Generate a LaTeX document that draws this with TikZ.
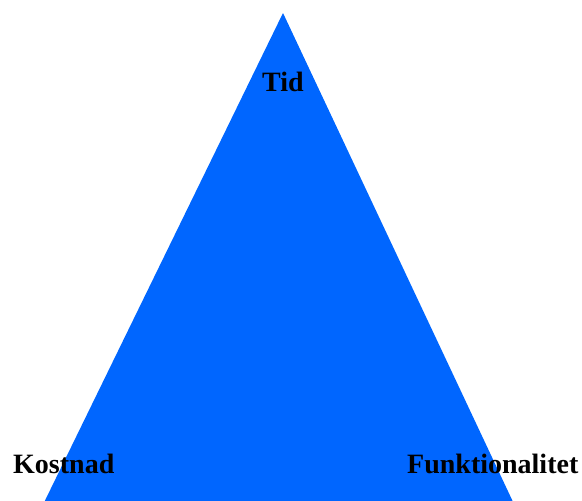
\documentclass[tikz,border=0pt]{standalone}
\usepackage{fontspec}
\setmainfont{Liberation Serif}
\usetikzlibrary{positioning,calc}

\begin{document}
\begin{tikzpicture}[
    x=1pt, y=-1pt,
    corner/.style={font=\fontsize{28}{32}\selectfont\bfseries,inner sep=0pt,text=black},
]

\definecolor{triblue}{RGB}{0,102,255}

% ---------- canvas ----------
\useasboundingbox (0,0) rectangle (582,501);
\clip (0,0) rectangle (582,501);

% ---------- triangle (runs past the bottom edge) ----------
\coordinate (top) at (283,13);
\coordinate (bl) at (35,521);
\coordinate (br) at (522,521);
\fill[triblue] (top) -- (bl) -- (br) -- cycle;

% ---------- corner labels ----------
\node[corner,anchor=base] (tid) at (283,91) {Tid};
\node[corner,anchor=base west] (kostnad) at (13,473) {Kostnad};
\node[corner,anchor=base west] (funktionalitet) at (407,473) {Funktionalitet};

\end{tikzpicture}
\end{document}
